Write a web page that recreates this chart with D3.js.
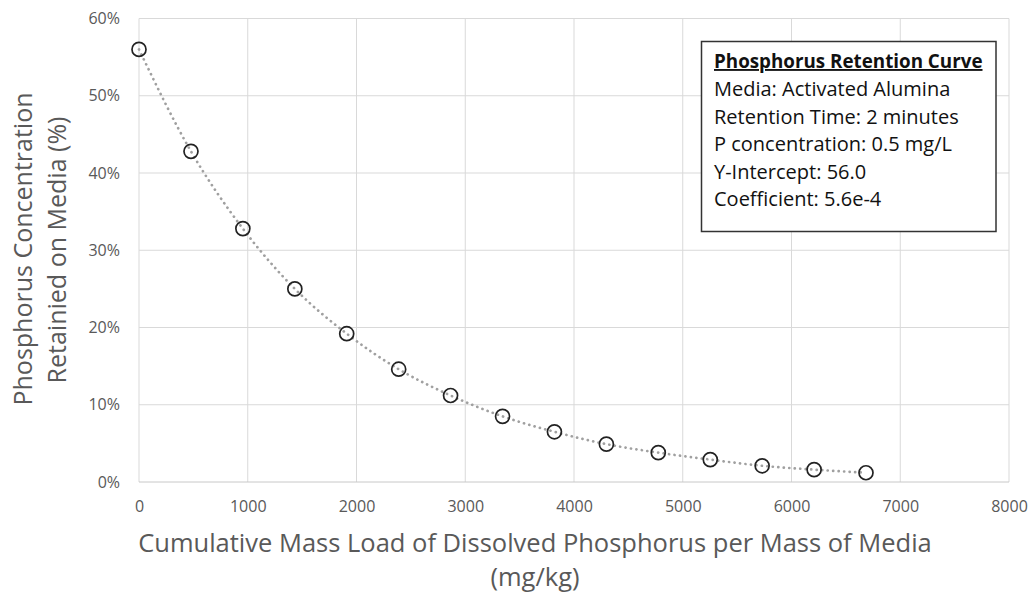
<!DOCTYPE html>
<html>
<head>
<meta charset="utf-8">
<script src="https://cdn.jsdelivr.net/npm/d3@7"></script>
<style>
  body { margin: 0; background: #fff; }
  text { font-family: "Open Sans", sans-serif; }
</style>
</head>
<body>
<div id="chart"></div>
<script>
// data
var loads = [0, 478, 955, 1433, 1910, 2388, 2865, 3343, 3820, 4298, 4775, 5253, 5730, 6208, 6685];
var retained = [56.0, 42.8, 32.8, 25.0, 19.2, 14.6, 11.2, 8.5, 6.5, 4.9, 3.8, 2.9, 2.1, 1.6, 1.2];
var xTicks = [0, 1000, 2000, 3000, 4000, 5000, 6000, 7000, 8000];
var yTicks = [0, 10, 20, 30, 40, 50, 60];
var boxTitle = 'Phosphorus Retention Curve';
var boxLines = ['Media: Activated Alumina', 'Retention Time: 2 minutes', 'P concentration: 0.5 mg/L',
  'Y-Intercept: 56.0', 'Coefficient: 5.6e-4'];

var W = 1032, H = 593;
var plotL = 139, plotR = 1009, plotT = 18.5, plotB = 482;

var svg = d3.select("#chart").append("svg")
    .attr("width", W)
    .attr("height", H);

var x = d3.scaleLinear().domain([0, 8000]).range([plotL, plotR]);
var y = d3.scaleLinear().domain([0, 60]).range([plotB, plotT]);

// gridlines
svg.append("g").selectAll("line")
    .data(xTicks)
  .enter().append("line")
    .attr("x1", d => x(d)).attr("x2", d => x(d))
    .attr("y1", plotT).attr("y2", plotB)
    .style("stroke", "#d9d9d9");

svg.append("g").selectAll("line")
    .data(yTicks)
  .enter().append("line")
    .attr("x1", plotL).attr("x2", plotR)
    .attr("y1", d => y(d)).attr("y2", d => y(d))
    .style("stroke", d => d == 0 ? "#c8c8c8" : "#d9d9d9");

// tick labels
var xAxis = d3.axisBottom(x).tickValues(xTicks).tickSize(0).tickPadding(19).tickFormat(d3.format("d"));
var gx = svg.append("g").attr("transform", "translate(0," + plotB + ")").call(xAxis);
gx.select(".domain").remove();
gx.selectAll("text").style("font-family", '"Open Sans", sans-serif').style("font-size", "16px").style("fill", "#595959");

var yAxis = d3.axisLeft(y).tickValues(yTicks).tickSize(0).tickPadding(19).tickFormat(d => d + "%");
var gy = svg.append("g").attr("transform", "translate(" + plotL + ",0)").call(yAxis);
gy.select(".domain").remove();
gy.selectAll("text").style("font-family", '"Open Sans", sans-serif').style("font-size", "16px").style("fill", "#595959");

// dotted trendline
var line = d3.line()
    .x((d, i) => x(loads[i]))
    .y(d => y(d))
    .curve(d3.curveMonotoneX);

svg.append("path")
    .datum(retained)
    .attr("d", line)
    .style("fill", "none")
    .style("stroke", "#a0a0a0")
    .style("stroke-width", 2.7)
    .style("stroke-linecap", "round")
    .style("stroke-dasharray", "0.1,5.4");

// markers
svg.append("g").selectAll("circle")
    .data(retained)
  .enter().append("circle")
    .attr("cx", (d, i) => x(loads[i]))
    .attr("cy", d => y(d))
    .attr("r", 7)
    .style("fill", "none")
    .style("stroke", "#222")
    .style("stroke-width", 1.7);

// axis titles
svg.append("text")
    .attr("x", 535)
    .attr("y", 552)
    .attr("text-anchor", "middle")
    .style("font-size", "25.5px")
    .style("fill", "#595959")
    .text("Cumulative Mass Load of Dissolved Phosphorus per Mass of Media");

svg.append("text")
    .attr("x", 535)
    .attr("y", 586)
    .attr("text-anchor", "middle")
    .style("font-size", "25.5px")
    .style("fill", "#595959")
    .text("(mg/kg)");

svg.append("text")
    .attr("transform", "translate(32,249) rotate(-90)")
    .attr("text-anchor", "middle")
    .style("font-size", "25px")
    .style("fill", "#595959")
    .text("Phosphorus Concentration");

svg.append("text")
    .attr("transform", "translate(66,250) rotate(-90)")
    .attr("text-anchor", "middle")
    .style("font-size", "25px")
    .style("fill", "#595959")
    .text("Retainied on Media (%)");

// info box
var bx = 701.5, by = 41.5, bw = 294.5, bh = 190;
svg.append("rect")
    .attr("x", bx).attr("y", by)
    .attr("width", bw).attr("height", bh)
    .style("fill", "#fff")
    .style("stroke", "#333")
    .style("stroke-width", 1.5);

svg.append("text")
    .attr("x", 714)
    .attr("y", 68)
    .style("font-size", "18.8px")
    .style("font-weight", "bold")
    .style("text-decoration", "underline")
    .style("fill", "#111")
    .text(boxTitle);

svg.append("g").selectAll("text")
    .data(boxLines)
  .enter().append("text")
    .attr("x", 714)
    .attr("y", (d, i) => 96 + i * 27.6)
    .style("font-size", "20px")
    .style("fill", "#111")
    .text(d => d);
</script>
</body>
</html>
